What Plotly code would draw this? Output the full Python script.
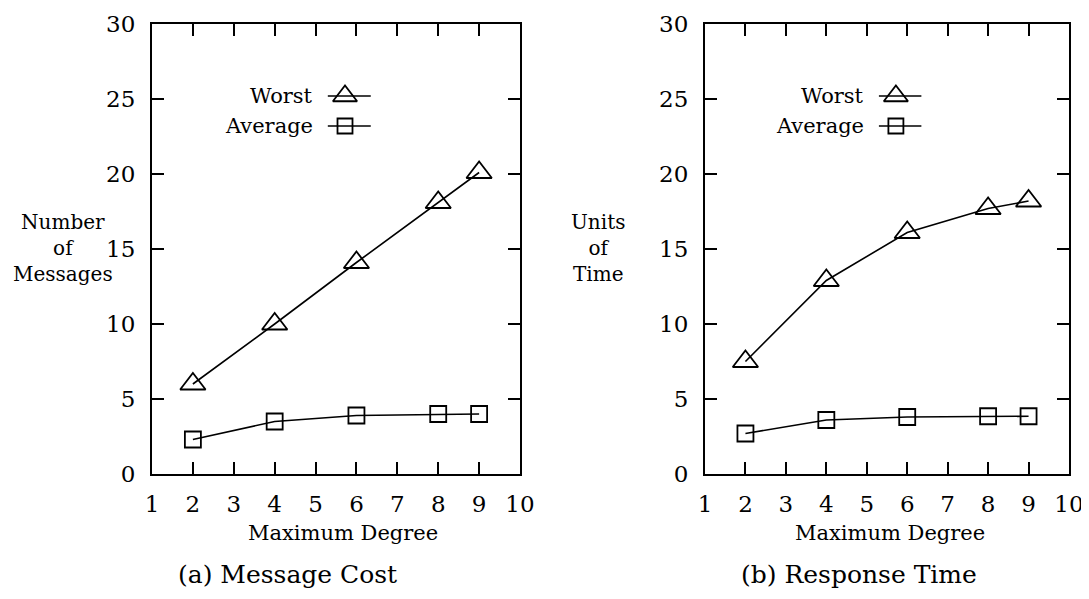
import plotly.graph_objects as go

# ---- data ----
degrees = [2, 4, 6, 8, 9]
cost_worst = [6.0, 10.0, 14.1, 18.1, 20.1]
cost_average = [2.3, 3.5, 3.9, 4.0, 4.0]
time_worst = [7.5, 12.9, 16.1, 17.7, 18.2]
time_average = [2.7, 3.6, 3.8, 3.85, 3.85]

x_ticks = list(range(1, 11))
y_ticks = [0, 5, 10, 15, 20, 25, 30]
series_names = ["Worst", "Average"]
captions = ["(a) Message Cost", "(b) Response Time"]
y_titles = ["Number<br>of<br>Messages", "Units<br>of<br>Time"]
x_title = "Maximum Degree"

FONT = "DejaVu Serif"
OFF = 8  # page body margin
W, H = 1089 - OFF, 599 - OFF


def px_x(p):
    return (p - OFF) / W


def px_y(p):
    return 1 - (p - OFF) / H


fig = go.Figure()

panels = [
    ("x", "y", cost_worst, cost_average),
    ("x2", "y2", time_worst, time_average),
]

for xa, ya, worst, avg in panels:
    fig.add_trace(go.Scatter(
        x=degrees, y=worst, xaxis=xa, yaxis=ya, mode="lines+markers",
        line=dict(color="black", width=1.6),
        marker=dict(symbol="triangle-up-open", size=22, color="black",
                    line=dict(width=1.8, color="black")),
        showlegend=False))
    fig.add_trace(go.Scatter(
        x=degrees, y=avg, xaxis=xa, yaxis=ya, mode="lines+markers",
        line=dict(color="black", width=1.6),
        marker=dict(symbol="square-open", size=16, color="black",
                    line=dict(width=1.8, color="black")),
        showlegend=False))
    # legend keys
    for (sym, sz, ly) in [("triangle-up-open", 21, 25.2), ("square-open", 15, 23.2)]:
        fig.add_trace(go.Scatter(
            x=[5.3, 6.35], y=[ly, ly], xaxis=xa, yaxis=ya, mode="lines",
            line=dict(color="black", width=1.4), showlegend=False,
            hoverinfo="skip"))
        fig.add_trace(go.Scatter(
            x=[5.72], y=[ly], xaxis=xa, yaxis=ya, mode="markers",
            marker=dict(symbol=sym, size=sz, color="black",
                        line=dict(width=1.8, color="black")),
            showlegend=False, hoverinfo="skip"))

axis_common = dict(
    showgrid=False, zeroline=False, showline=True, linecolor="black",
    linewidth=2, mirror="ticks", ticks="inside", ticklen=12, tickwidth=1.6,
    tickcolor="black", automargin=False, ticklabeloverflow="allow",
)
xfont = dict(family=FONT, size=23, color="black")
yfont = dict(family=FONT, size=23, color="black")

ydom = [px_y(474), px_y(24)]
fig.update_layout(
    width=W, height=H,
    margin=dict(l=0, r=0, t=0, b=0, pad=0, autoexpand=False),
    paper_bgcolor="white", plot_bgcolor="white",
    xaxis=dict(domain=[px_x(152), px_x(520)], range=[1, 10], tickvals=x_ticks,
               anchor="y", ticklabelstandoff=8, tickfont=xfont, **axis_common),
    yaxis=dict(domain=ydom, range=[0, 30], tickvals=y_ticks,
               anchor="x", ticklabelstandoff=10, tickfont=yfont, **axis_common),
    xaxis2=dict(domain=[px_x(705), px_x(1069)], range=[1, 10], tickvals=x_ticks,
                anchor="y2", ticklabelstandoff=8, tickfont=xfont, **axis_common),
    yaxis2=dict(domain=ydom, range=[0, 30], tickvals=y_ticks,
                anchor="x2", ticklabelstandoff=10, tickfont=yfont, **axis_common),
    showlegend=False,
)

ann = []
# legend labels
for xr, yr in [("x", "y"), ("x2", "y2")]:
    for name, ly in zip(series_names, [25.2, 23.2]):
        ann.append(dict(x=4.98, y=ly, xref=xr, yref=yr, text=name,
                        xanchor="right", yanchor="middle", showarrow=False,
                        font=dict(family=FONT, size=21, color="black")))
# axis titles and captions
for cx, cap_x, cap in [(343, 287, captions[0]), (890, 859, captions[1])]:
    ann.append(dict(x=px_x(cx), y=px_y(533), xref="paper", yref="paper",
                    text=x_title, showarrow=False, xanchor="center",
                    yanchor="middle",
                    font=dict(family=FONT, size=21, color="black")))
    ann.append(dict(x=px_x(cap_x), y=px_y(574), xref="paper", yref="paper",
                    text=cap, showarrow=False, xanchor="center",
                    yanchor="middle",
                    font=dict(family=FONT, size=25, color="black")))
for tx, yt in [(63, y_titles[0]), (598, y_titles[1])]:
    ann.append(dict(x=px_x(tx), y=px_y(248), xref="paper", yref="paper",
                    text=yt, showarrow=False, xanchor="center",
                    yanchor="middle", align="center",
                    font=dict(family=FONT, size=20, color="black")))
fig.update_layout(annotations=ann)

fig.write_html("out.html")
